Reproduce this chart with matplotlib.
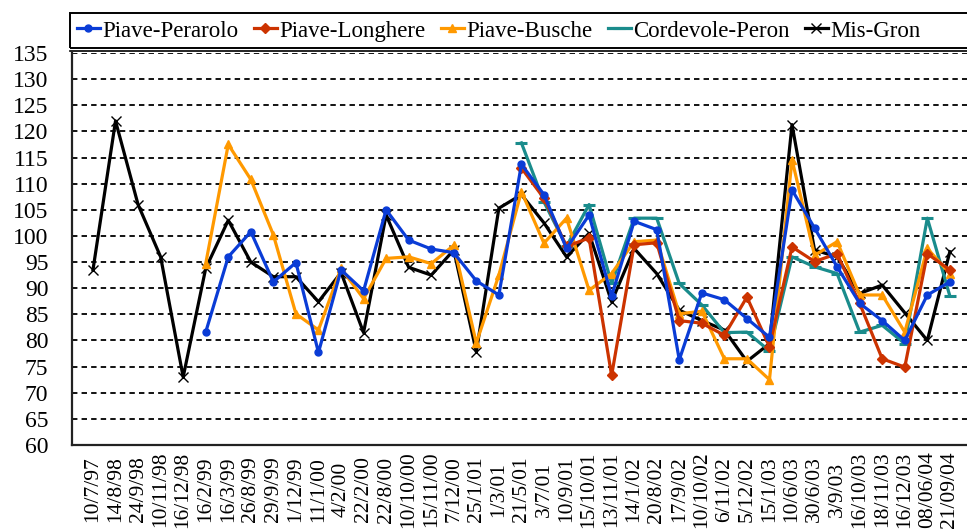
import numpy as np
import matplotlib
matplotlib.use('Agg')
import matplotlib.pyplot as plt
from matplotlib.patches import Rectangle
from matplotlib.lines import Line2D

nan = np.nan

dates = ['10/7/97', '14/8/98', '24/9/98', '10/11/98', '16/12/98', '16/2/99',
         '16/3/99', '26/8/99', '29/9/99', '1/12/99', '11/1/00', '4/2/00',
         '22/2/00', '22/8/00', '10/10/00', '15/11/00', '7/12/00', '25/1/01',
         '1/3/01', '21/5/01', '3/7/01', '10/9/01', '15/10/01', '13/11/01',
         '14/1/02', '20/8/02', '17/9/02', '10/10/02', '6/11/02', '5/12/02',
         '15/1/03', '10/6/03', '30/6/03', '3/9/03', '16/10/03', '18/11/03',
         '16/12/03', '08/06/04', '21/09/04']

perarolo = [nan, nan, nan, nan, nan, 81.6, 96, 100.8, 91.2, 94.9, 77.7, 93.5,
            89.5, 105, 99.2, 97.5, 96.8, 91.4, 88.7, 113.7, 107.9, 97.6, 104,
            88.5, 102.8, 101.2, 76.3, 89.1, 87.8, 84.2, 80.6, 108.8, 101.5,
            94.1, 87.1, 83.8, 80, 88.7, 91.2]

longhere = [nan] * 19 + [113, 107.2, 98, 99.6, 73.3, 98.3, 98.7, 83.8, 83.3,
                         81, 88.3, 78.8, 97.9, 95.1, 96.6, 87.1, 76.5, 74.9,
                         96.6, 93.5]

busche = [nan, nan, nan, nan, nan, 94.7, 117.5, 110.8, 100.2, 85.1, 82, 93.8,
          88, 95.7, 96, 94.7, 98.2, 79.5, 92.5, 108.5, 98.6, 103.4, 89.6,
          92.8, 98.9, 99.2, 85.1, 85.6, 76.5, 76.5, 72.5, 114.6, 96.3, 98.9,
          88.7, 88.7, 81.6, 97.6, 92.8]

peron = [nan] * 19 + [117.8, 106.5, 98, 106, 90.9, 103.4, 103.4, 90.9, 86.8,
                      81.5, 81.6, 78, 96, 94.1, 92.8, 81.6, 82.9, 79.4, 103.4,
                      88.5]

misgron = [93.5, 122, 106, 96, 73, 93.8, 103, 95, 92.2, 92.2, 87.4, 93, 81.5,
           104, 94, 92.5, 97.3, 77.8, 105.3, 107.9, 102.5, 96, 100.5, 87.4,
           97.6, 92.8, 85.8, 83.8, 82, 76, 79.4, 121.3, 97.3, 96, 89, 90.6,
           85.3, 80, 97]

plt.rcParams['font.family'] = ['Liberation Serif', 'DejaVu Serif']

W, H = 967, 529
fig = plt.figure(figsize=(W / 100, H / 100), dpi=100)
ax = fig.add_axes([72 / W, (H - 445) / H, (W - 72) / W, (445 - 53) / H])

x = np.arange(len(dates))

# series drawn from back to front (blue ends up on top)
series = [
    (misgron, 'Mis-Gron', 'black', 'x', dict(markersize=7, markeredgewidth=1.0)),
    (peron, 'Cordevole-Peron', '#1a8c8c', '_', dict(markersize=9, markeredgewidth=2.2)),
    (busche, 'Piave-Busche', '#ff9900', '^', dict(markersize=6)),
    (longhere, 'Piave-Longhere', '#cc3300', 'D', dict(markersize=5)),
    (perarolo, 'Piave-Perarolo', '#0a3cd6', 'o', dict(markersize=5)),
]
handles = {}
for vals, name, col, mk, mkw in series:
    ln, = ax.plot(x, vals, color=col, lw=2.3, marker=mk, markerfacecolor=col,
                  markeredgecolor=col, label=name, **mkw)
    handles[name] = ln

ax.set_ylim(60, 135)
ax.set_xlim(-0.93, 38.76)
ax.set_yticks(np.arange(60, 136, 5))
for v in range(65, 136, 5):
    ax.axhline(v, color='black', lw=1.3, dashes=(3.0, 2.3), zorder=0)

ax.set_xticks(x)
ax.set_xticklabels(dates, rotation=90, va='center', ha='center', fontsize=15.5)
ax.tick_params(axis='x', length=0, pad=32)
ax.tick_params(axis='y', length=0, pad=17, labelsize=17)

for s in ['top', 'right']:
    ax.spines[s].set_visible(False)
for s in ['left', 'bottom']:
    ax.spines[s].set_linewidth(1.6)
    ax.spines[s].set_color('#222222')

order = ['Piave-Perarolo', 'Piave-Longhere', 'Piave-Busche', 'Cordevole-Peron', 'Mis-Gron']
leg = fig.legend([handles[n] for n in order], order, loc='center left',
                 bbox_to_anchor=(70 / W, 1 - 31 / H), ncol=5, frameon=False,
                 fontsize=16.5, handlelength=1.0, handletextpad=0.1,
                 columnspacing=0.68, borderpad=0.3, borderaxespad=0)

# legend box with double bottom edge
fig.add_artist(Rectangle((70 / W, 1 - 48 / H), 920 / W, 35 / H, transform=fig.transFigure,
                         fill=False, edgecolor='black', lw=1.4))
fig.add_artist(Line2D([70 / W, 1.0], [1 - 50.8 / H, 1 - 50.8 / H], transform=fig.transFigure,
                      color='black', lw=1.2))

fig.savefig('out.png', dpi=100)
